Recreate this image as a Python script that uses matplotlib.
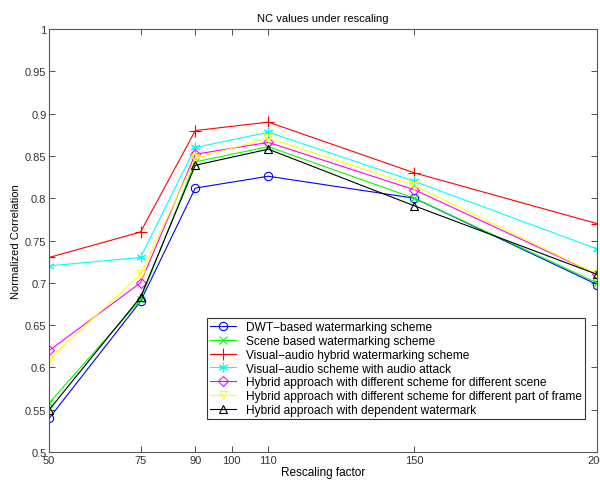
import matplotlib.pyplot as plt
import numpy as np

plt.rcParams['font.family'] = ['Liberation Sans', 'DejaVu Sans']

scale = [50, 75, 90, 110, 150, 200]
xticks = [50, 75, 90, 100, 110, 150, 200]

dwt = [0.54, 0.678, 0.812, 0.826, 0.80, 0.698]
scene = [0.558, 0.68, 0.843, 0.861, 0.80, 0.70]
hybrid = [0.73, 0.76, 0.88, 0.89, 0.83, 0.77]
audio_attack = [0.72, 0.73, 0.86, 0.878, 0.82, 0.74]
diff_scene = [0.62, 0.70, 0.852, 0.866, 0.81, 0.71]
diff_frame = [0.61, 0.71, 0.847, 0.871, 0.815, 0.71]
dependent = [0.55, 0.683, 0.839, 0.858, 0.791, 0.71]

# asterisk marker like matlab's '*'
star = (6, 2, 0)

series = [
    (dwt, '#0000ff', 'o', 6, 'DWT\u2212based watermarking scheme'),
    (scene, '#00ff00', 'x', 6, 'Scene based watermarking scheme'),
    (hybrid, '#ff0000', '+', 8, 'Visual\u2212audio hybrid watermarking scheme'),
    (audio_attack, '#00ffff', star, 7, 'Visual\u2212audio scheme with audio attack'),
    (diff_scene, '#ff00ff', 'D', 5, 'Hybrid approach with different scheme for different scene'),
    (diff_frame, '#ffff00', 'v', 6, 'Hybrid approach with different scheme for different part of frame'),
    (dependent, '#000000', '^', 6, 'Hybrid approach with dependent watermark'),
]

fig = plt.figure(figsize=(6.0, 4.85), dpi=100)
ax = fig.add_axes([0.082, 0.066, 0.913, 0.872])

for vals, col, mk, ms, lab in series:
    ax.plot(scale, vals, color=col, marker=mk, linewidth=0.8,
            markersize=ms, markerfacecolor='none',
            markeredgecolor=col, markeredgewidth=0.8, label=lab)

ax.set_xlim(50, 200)
ax.set_ylim(0.5, 1.0)
ax.set_xticks(xticks)
ax.set_yticks(np.arange(0.5, 1.001, 0.05))
ax.set_yticklabels(['0.5', '0.55', '0.6', '0.65', '0.7', '0.75', '0.8',
                    '0.85', '0.9', '0.95', '1'])
ax.tick_params(direction='in', top=True, right=True, labelsize=8,
               length=4, width=0.6, colors='#333333', pad=2)
for sp in ax.spines.values():
    sp.set_linewidth(0.8)
    sp.set_color('#555555')

ax.set_title('NC values under rescaling', fontsize=8, pad=6)
ax.set_xlabel('Rescaling factor', fontsize=8.5, labelpad=1)
ax.set_ylabel('Normalized Correlation', fontsize=8, labelpad=3)

leg = ax.legend(loc='lower right', bbox_to_anchor=(0.978, 0.078), fontsize=8.6,
                frameon=True, fancybox=False, edgecolor='black',
                handlelength=2.2, handletextpad=0.8, borderpad=0.25,
                labelspacing=0.15, borderaxespad=0)
leg.get_frame().set_linewidth(0.8)

fig.savefig('out.png', dpi=100)
